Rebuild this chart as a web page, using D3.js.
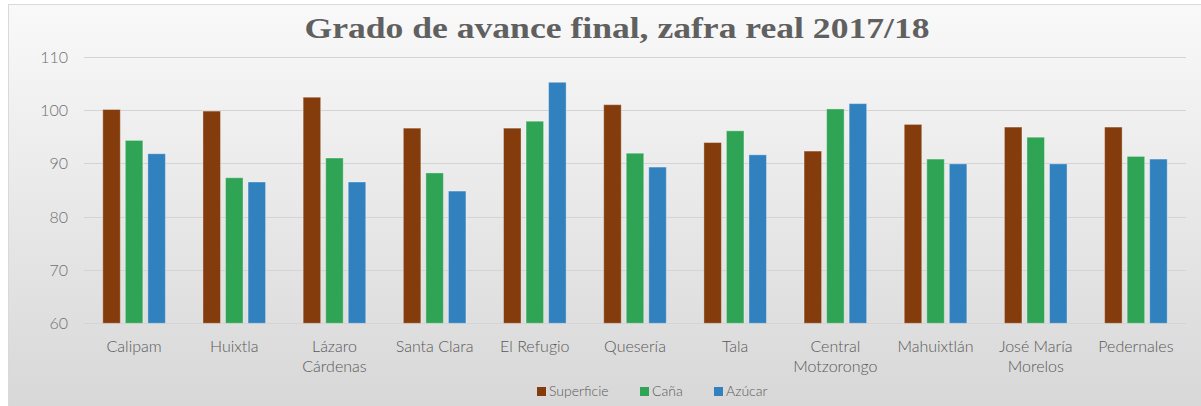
<!DOCTYPE html>
<html><head><meta charset="utf-8">
<script src="https://cdn.jsdelivr.net/npm/d3@7"></script>
<style>html,body{margin:0;padding:0;background:#fff;overflow:hidden}</style>
</head><body><svg id="c" width="1201" height="406"></svg>
<script>
const categories = ["Calipam","Huixtla","Lázaro Cárdenas","Santa Clara","El Refugio","Quesería","Tala","Central Motzorongo","Mahuixtlán","José María Morelos","Pedernales"];
const categoryLines = [["Calipam"],["Huixtla"],["Lázaro","Cárdenas"],["Santa Clara"],["El Refugio"],["Quesería"],["Tala"],["Central","Motzorongo"],["Mahuixtlán"],["José María","Morelos"],["Pedernales"]];
const seriesNames = ["Superficie","Caña","Azúcar"];
const superficie = [100.1, 99.8, 102.4, 96.6, 96.6, 101.0, 93.9, 92.3, 97.3, 96.8, 96.8];
const cana = [94.3, 87.3, 91.0, 88.2, 97.9, 91.9, 96.1, 100.2, 90.8, 94.9, 91.3];
const azucar = [91.8, 86.5, 86.5, 84.8, 105.2, 89.3, 91.6, 101.2, 89.9, 89.9, 90.8];
const yTicks = [60,70,80,90,100,110];
const colors = ["#843C0C","#2FA455","#3181BF"];
const title = "Grado de avance final, zafra real 2017/18";

(function(){
const series = [superficie, cana, azucar];
const svg = d3.select("#c");
const defs = svg.append("defs");
const grad = defs.append("linearGradient").attr("id","bg").attr("x1",0).attr("y1",0).attr("x2",0).attr("y2",1);
grad.append("stop").attr("offset","0%").attr("stop-color","#f9f9f9");
grad.append("stop").attr("offset","100%").attr("stop-color","#d7d7d7");

svg.append("rect").attr("x",8.5).attr("y",4.5).attr("width",1200).attr("height",410)
  .attr("fill","url(#bg)").attr("stroke","#d9d9d9").attr("stroke-width",1);

const pLeft = 84, pRight = 1186, pTop = 56.7, pBottom = 323.3;
const x = d3.scaleBand().domain(categories).range([pLeft,pRight]).padding(0);
const y = d3.scaleLinear().domain([60,110]).range([pBottom, pTop]);

svg.append("g").selectAll("line").data(yTicks).join("line")
  .attr("x1",pLeft).attr("x2",pRight)
  .attr("y1",d=>Math.round(y(d))+0.5).attr("y2",d=>Math.round(y(d))+0.5)
  .attr("stroke","#d4d4d4").attr("stroke-width",1);

const sans = "Lato, 'Open Sans', sans-serif";
const yAxis = d3.axisLeft(y).tickValues(yTicks).tickSize(0).tickPadding(0);
const gy = svg.append("g").attr("transform",`translate(68,0)`).call(yAxis);
gy.select(".domain").remove();
gy.selectAll("text").attr("font-family",sans).attr("font-weight",300).attr("font-size",16)
  .attr("fill","#6f6f6f").attr("dy","0.35em");

const bw = x.bandwidth()*0.175, gap = x.bandwidth()*0.05;
const groupW = 3*bw + 2*gap;
const gx = d3.scaleBand().domain(seriesNames).range([0, groupW]).paddingInner(gap/(bw+gap)).paddingOuter(0);
series.forEach((vals, si) => {
  svg.append("g").selectAll("rect").data(vals).join("rect")
    .attr("x",(d,i)=> x(categories[i]) + x.bandwidth()/2 - groupW/2 + gx(seriesNames[si]))
    .attr("width", gx.bandwidth())
    .attr("y", d=>y(d)).attr("height", d=>y(60)-y(d))
    .attr("fill", colors[si])
    .attr("stroke","rgba(255,255,255,0.35)").attr("stroke-width",1);
});

const xl = svg.append("g");
categoryLines.forEach((lines,i)=>{
  const cx = x(categories[i]) + x.bandwidth()/2;
  const t = xl.append("text").attr("x", cx).attr("y",352)
    .attr("text-anchor","middle").attr("font-family",sans).attr("font-weight",300)
    .attr("font-size",16).attr("fill","#595959");
  lines.forEach((l,k)=> t.append("tspan").attr("x", cx).attr("dy", k===0?0:20).text(l));
});

svg.append("text").attr("x",617).attr("y",38).attr("text-anchor","middle")
  .attr("font-family","'Liberation Serif', serif").attr("font-weight","bold")
  .attr("font-size",29).attr("fill","#606060")
  .attr("textLength",625).attr("lengthAdjust","spacingAndGlyphs").text(title);

const legX = [537, 640, 714];
const lg = svg.append("g");
seriesNames.forEach((n,i)=>{
  lg.append("rect").attr("x",legX[i]).attr("y",387).attr("width",9).attr("height",9).attr("fill",colors[i]);
  lg.append("text").attr("x",legX[i]+12).attr("y",396).attr("font-family",sans).attr("font-weight",300)
    .attr("font-size",14).attr("fill","#595959").text(n);
});
})();
</script></body></html>
